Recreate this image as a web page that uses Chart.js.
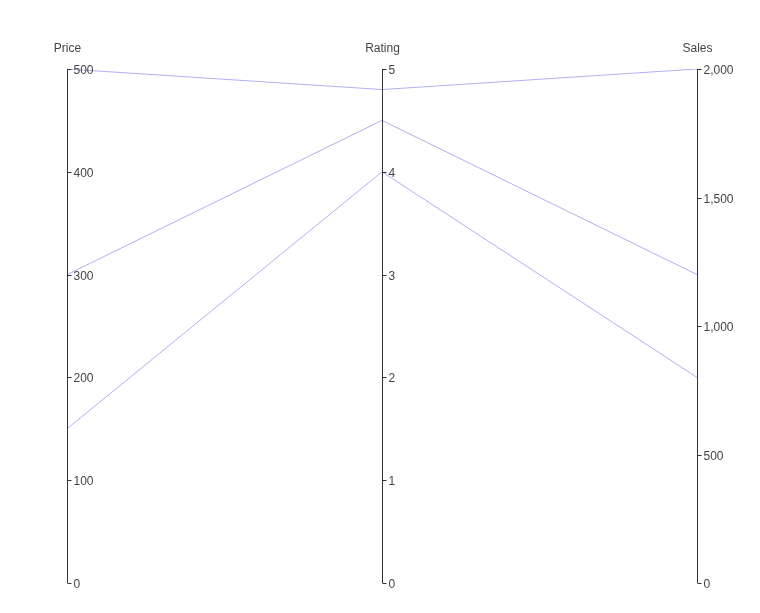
<!DOCTYPE html>
<html>
<head>
<meta charset="utf-8">
<script src="https://cdn.jsdelivr.net/npm/chart.js@4.4.1/dist/chart.umd.min.js"></script>
<style>
  html, body { margin: 0; padding: 0; background: #fff; }
  #wrap { width: 760px; height: 613px; }
</style>
</head>
<body>
<div id="wrap"><canvas id="grafico"></canvas></div>
<script>
// Dados - coordenadas paralelas
const dimensoes = ['Price', 'Rating', 'Sales'];
const eixoMin = [0, 0, 0];
const eixoMax = [500, 5, 2000];
const eixoPasso = [100, 1, 500];

const precos = [500, 300, 150];
const notas = [4.8, 4.5, 4.0];
const vendas = [2000, 1200, 800];

const corLinha = 'rgba(110, 110, 235, 0.55)';
const corEixo = '#333';
const corTexto = '#444';
const fonte = 'Helvetica, Arial, "Liberation Sans", sans-serif';

// cada item vira uma linha; valores normalizados pelo range de cada eixo
const normalizar = (v, i) => (v - eixoMin[i]) / (eixoMax[i] - eixoMin[i]);
const datasets = precos.map((p, k) => ({
  label: 'item ' + (k + 1),
  data: [p, notas[k], vendas[k]].map((v, i) => normalizar(v, i)),
  borderColor: corLinha,
  borderWidth: 1,
  pointRadius: 0,
  tension: 0,
  fill: false
}));

// escalas dos eixos (ocultas, desenhadas pelo plugin)
const escalas = {
  x: { type: 'category', display: false, offset: false },
  yn: { type: 'linear', display: false, min: 0, max: 1 }
};
dimensoes.forEach((d, i) => {
  escalas['y' + i] = {
    type: 'linear', display: false,
    min: eixoMin[i], max: eixoMax[i],
    ticks: { stepSize: eixoPasso[i] }
  };
});

const fmt = new Intl.NumberFormat('en-US');

const eixosParalelos = {
  id: 'eixosParalelos',
  afterDatasetsDraw(chart) {
    const ctx = chart.ctx;
    const xs = chart.scales.x;
    ctx.save();
    dimensoes.forEach((d, i) => {
      const sc = chart.scales['y' + i];
      const x = Math.round(xs.getPixelForValue(i)) + 0.5;
      const top = sc.getPixelForValue(eixoMax[i]);
      const bottom = sc.getPixelForValue(eixoMin[i]);

      ctx.strokeStyle = corEixo;
      ctx.lineWidth = 1;
      ctx.beginPath();
      ctx.moveTo(x, top);
      ctx.lineTo(x, bottom);
      ctx.stroke();

      ctx.font = '12px ' + fonte;
      ctx.fillStyle = corTexto;
      ctx.textAlign = 'left';
      ctx.textBaseline = 'middle';
      sc.ticks.forEach(t => {
        const y = Math.round(sc.getPixelForValue(t.value)) + 0.5;
        ctx.beginPath();
        ctx.moveTo(x, y);
        ctx.lineTo(x + 4, y);
        ctx.stroke();
        ctx.fillText(fmt.format(t.value), x + 6, y + 1);
      });

      ctx.textAlign = 'center';
      ctx.textBaseline = 'alphabetic';
      ctx.fillText(d, x, top - 17);
    });
    ctx.restore();
  }
};

new Chart(document.getElementById('grafico'), {
  type: 'line',
  data: {
    labels: dimensoes,
    datasets: datasets.map(ds => ({ ...ds, yAxisID: 'yn' }))
  },
  options: {
    responsive: true,
    maintainAspectRatio: false,
    animation: false,
    layout: { padding: { left: 67, right: 63, top: 69, bottom: 30 } },
    plugins: { legend: { display: false }, tooltip: { enabled: false } },
    scales: escalas
  },
  plugins: [eixosParalelos]
});
</script>
</body>
</html>
